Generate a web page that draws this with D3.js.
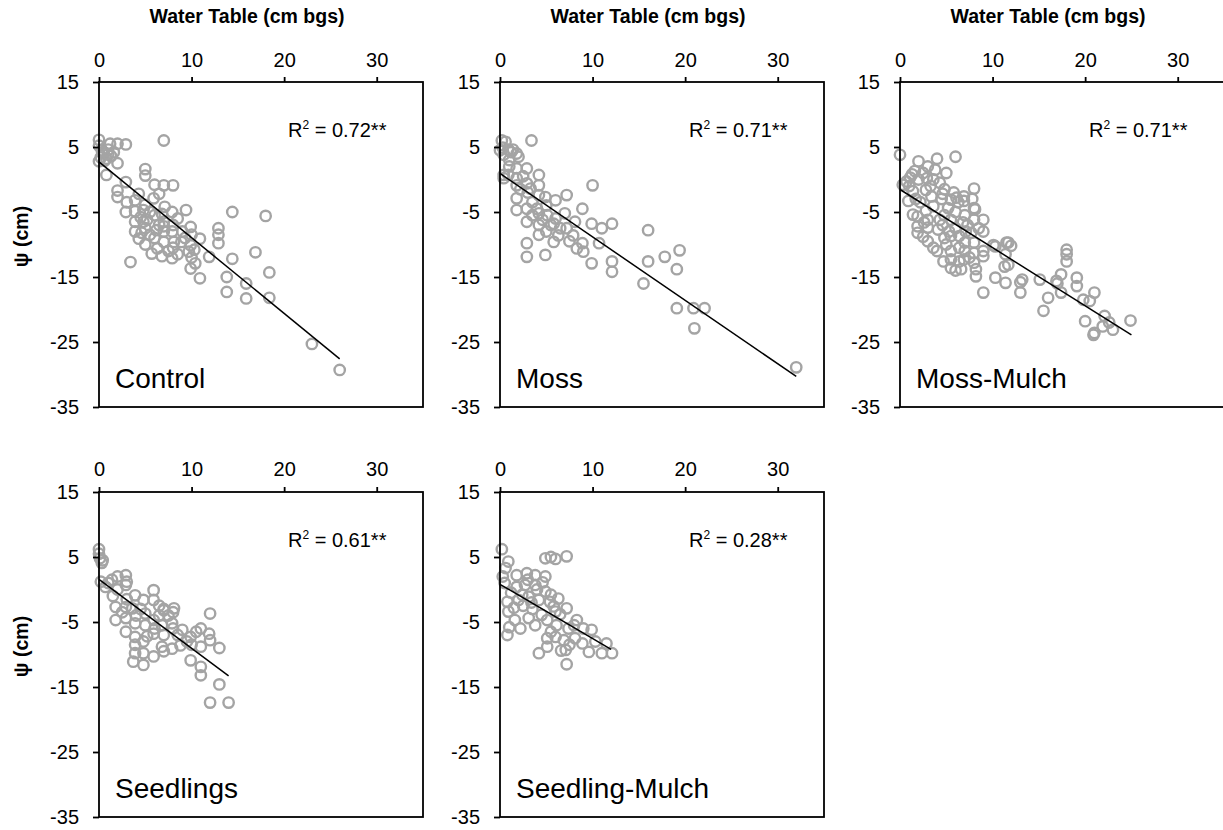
<!DOCTYPE html>
<html>
<head>
<meta charset="utf-8">
<script src="https://cdn.jsdelivr.net/npm/d3@7"></script>
<style>
  html, body { margin: 0; padding: 0; background: #fff; }
  svg { display: block; font-family: "Liberation Sans", Arial, sans-serif; }
</style>
</head>
<body>
<svg id="chart" width="1223" height="830"></svg>
<script>
// ---------------- DATA ----------------
const panelNames = ["Control", "Moss", "Moss-Mulch", "Seedlings", "Seedling-Mulch"];
const r2Labels = ["0.72**", "0.71**", "0.71**", "0.61**", "0.28**"];
const xTicks = [0, 10, 20, 30];
const yTicks = [15, 5, -5, -15, -25, -35];
const xTitle = "Water Table (cm bgs)";
const yTitle = "ψ (cm)";

const trendIntercept = [2.7, 0.93, -1.54, 1.55, 0.8];
const trendSlope = [-1.165, -0.976, -0.894, -1.06, -0.834];
const trendXEnd = [26, 32, 25, 14, 12];

const controlPts = [
  [0,6.1],[0,5.2],[0.3,4.5],[0.5,4.0],[1.0,4.6],[1.2,5.5],[1.6,4.2],[2.0,5.5],[2.9,5.4],[0.2,3.4],
  [0,2.8],[0.8,3.2],[1.3,3.6],[2.0,2.5],[0.8,0.7],[7.0,6.0],[5.0,1.6],[5.0,0.6],[2.9,-0.4],[6.0,-0.8],
  [7.0,-0.9],[8.0,-0.9],[2.0,-1.7],[2.0,-2.7],[4.3,-2.2],[3.9,-3.2],[5.9,-2.9],[6.5,-2.2],[2.9,-5.0],[3.9,-4.9],
  [4.8,-4.7],[5.0,-3.9],[7.1,-4.2],[7.9,-5.0],[9.4,-4.7],[14.4,-5.0],[18.0,-5.6],[3.9,-6.5],[3.9,-8.0],[4.8,-6.5],
  [5.0,-7.5],[5.5,-8.5],[4.3,-9.1],[7.0,-6.5],[7.0,-8.0],[7.9,-8.0],[8.1,-9.6],[7.0,-9.6],[6.3,-10.6],[5.7,-11.4],
  [9.9,-7.3],[10.0,-8.5],[10.9,-9.1],[8.9,-9.6],[9.9,-10.1],[9.7,-11.1],[7.9,-12.1],[9.9,-13.7],[10.4,-12.9],[10.9,-15.2],
  [12.9,-7.5],[12.9,-8.5],[12.9,-9.8],[11.9,-11.9],[14.4,-12.2],[16.9,-11.2],[18.4,-14.3],[3.4,-12.7],[13.8,-15.0],[15.9,-16.0],
  [15.9,-18.3],[13.8,-17.3],[18.4,-18.2],[23.0,-25.3],[26.0,-29.3],
  [6.0,-5.5],[6.5,-7.0],[8.5,-6.0],[9.0,-8.0],[6.0,-9.0],[5.0,-10.0],[7.5,-11.0],[8.5,-11.5],[10.0,-12.0],[4.5,-5.8],
  [3.0,-3.5],[5.5,-5.0],[6.8,-5.3],[8.0,-7.0],[9.3,-9.0],[4.6,-8.2],[6.2,-7.8],[0.4,4.2],[1.0,3.9],[0.6,2.9],
  [7.0,-7.2],[8.0,-10.5],[6.8,-11.8],[5.2,-6.2],[10.3,-10.8]
];
const mossPts = [
  [0.2,6.0],[0.6,5.8],[3.4,6.0],[0,4.5],[0.9,4.6],[1.2,4.2],[1.8,4.0],[2.0,3.5],[0.4,3.8],[1.0,3.0],
  [1.8,1.7],[2.9,1.7],[4.2,0.7],[0.4,0.7],[0.4,0.2],[1.8,0.2],[1.8,-0.9],[2.9,-0.6],[4.2,-0.9],[4.2,-2.4],
  [10.0,-0.9],[1.8,-2.9],[1.8,-4.7],[2.9,-4.5],[2.9,-6.5],[4.9,-2.7],[6.0,-3.2],[7.2,-2.4],[4.2,-5.2],[5.1,-5.5],
  [4.2,-7.0],[4.2,-8.5],[5.8,-6.8],[5.8,-9.6],[7.0,-5.2],[7.2,-7.5],[8.9,-4.5],[7.9,-8.6],[8.3,-10.6],[8.9,-9.8],
  [9.0,-11.1],[8.1,-6.5],[9.9,-6.8],[11.0,-7.5],[12.1,-6.8],[10.7,-9.8],[2.9,-9.8],[2.9,-11.9],[4.9,-11.6],[9.9,-12.9],
  [12.1,-12.6],[12.1,-14.2],[16.0,-7.8],[16.0,-12.6],[17.8,-11.9],[19.4,-10.9],[19.1,-13.8],[15.5,-16.0],[19.1,-19.8],[20.9,-19.8],
  [22.1,-19.8],[21.0,-22.9],[32.0,-28.9],
  [3.0,-2.0],[3.5,-3.5],[5.0,-4.0],[6.0,-6.0],[6.5,-7.5],[5.0,-8.0],[3.5,-5.5],[7.5,-9.5],[4.0,-4.5],[1.0,2.0],
  [2.5,0.5],[2.2,-1.5],[5.5,-7.0],[0.3,4.9],[1.4,4.6],[0.9,0.7],[3.3,-1.4],[6.3,-8.6],[4.6,-6.2]
];
const mossMulchPts = [
  [0,3.8],[2,2.8],[3,2.0],[4,3.2],[6,3.5],[1.6,1.3],[1.1,0.3],[0.7,-0.3],[3.6,0.0],[4.3,-0.5],
  [2.8,-1.6],[1.4,-1.8],[8.0,-1.4],[0.9,-3.3],[5.5,-3.1],[6.9,-2.6],[6.9,-3.3],[3.6,-4.1],[5.2,-4.4],[1.4,-5.4],
  [1.9,-5.7],[3.0,-6.2],[4.3,-6.2],[5.5,-6.2],[8.0,-4.4],[8.0,-6.2],[9.0,-6.2],[9.0,-8.0],[1.9,-7.2],[3.0,-7.4],
  [4.1,-7.7],[1.9,-8.2],[5.5,-8.7],[6.4,-8.7],[7.7,-8.2],[8.0,-9.7],[7.0,-9.7],[3.0,-9.5],[3.6,-10.5],[5.5,-11.0],
  [6.4,-10.5],[7.0,-11.0],[8.0,-11.3],[10.3,-10.3],[11.7,-9.7],[11.4,-11.5],[5.5,-12.3],[6.4,-12.6],[5.5,-13.6],[6.6,-13.8],
  [8.2,-13.8],[8.0,-12.8],[9.0,-11.0],[9.0,-11.8],[11.7,-13.1],[10.3,-15.1],[11.4,-15.9],[13.2,-15.4],[15.1,-15.4],[8.2,-14.9],
  [9.0,-17.4],[13.0,-17.4],[13.0,-15.8],[15.5,-20.2],[16.0,-18.2],[18.0,-10.8],[18.0,-11.5],[18.0,-12.6],[17.4,-14.6],[16.9,-15.6],
  [19.1,-15.1],[19.1,-16.4],[17.4,-17.4],[19.8,-18.5],[20.5,-18.7],[21.0,-17.4],[20.0,-21.8],[21.0,-23.6],[22.1,-21.0],[21.9,-22.6],
  [23.0,-23.1],[24.9,-21.7],
  [2.5,1.0],[3.3,-1.0],[4.8,-1.5],[5.8,-2.0],[4.5,-3.0],[2.2,-3.5],[2.8,-4.8],[6.0,-5.0],[7.0,-5.5],[4.8,-5.5],
  [7.3,-7.0],[6.0,-7.5],[4.8,-9.0],[2.5,-8.8],[4.0,-11.0],[5.0,-10.0],[7.5,-12.0],[6.0,-14.0],[12.0,-10.2],[8.5,-7.5],
  [2.0,0.0],[1.0,-1.0],[5.0,1.0],[3.8,1.5],[6.3,-3.5],[7.8,-3.0],[10.1,-10.1],[11.5,-9.7],[11.3,-13.4],[8.1,-4.6],
  [0.3,-0.8],[1.3,0.8],[2.9,0.2],[4.6,-2.2],[6.1,-2.8],[3.4,-2.6],[1.7,-3.0],[6.8,-6.6],[4.6,-7.0],[2.6,-6.6],
  [6.9,-12.3],[4.7,-12.6],[5.3,-8.0],[7.1,-8.0],[20.9,-23.9],[22.6,-22.0],[17.0,-16.0]
];
const seedlingsPts = [
  [0,6.2],[0,5.5],[0.1,4.8],[0.4,4.5],[0.3,4.1],[1.4,1.5],[2.0,2.0],[2.9,2.2],[2.9,0.7],[0.7,0.4],
  [3.9,-0.9],[4.8,-1.6],[5.9,-0.1],[5.9,-1.6],[1.8,-2.7],[2.9,-2.7],[3.6,-2.9],[7.0,-3.2],[8.1,-2.9],[1.8,-4.7],
  [2.9,-4.4],[3.9,-5.2],[2.9,-6.5],[5.0,-3.7],[5.9,-4.7],[6.8,-5.5],[7.9,-5.2],[9.0,-6.2],[9.9,-7.3],[11.0,-6.0],
  [11.9,-6.8],[12.0,-3.7],[3.9,-7.3],[3.9,-8.5],[4.8,-8.0],[3.9,-9.8],[4.8,-9.8],[3.7,-11.1],[4.8,-11.6],[5.9,-6.8],
  [5.9,-10.3],[6.8,-8.8],[7.9,-9.1],[8.8,-8.6],[9.9,-10.9],[11.0,-8.8],[11.0,-11.9],[11.0,-13.2],[13.0,-9.0],[13.0,-14.6],
  [12.0,-17.4],[14.0,-17.4],
  [1.0,1.0],[2.0,0.0],[3.0,-1.5],[4.5,-3.0],[6.5,-2.5],[7.5,-4.0],[8.0,-3.5],[6.0,-6.0],[7.0,-7.0],[8.5,-7.0],
  [10.0,-8.5],[5.0,-5.5],[2.5,-3.5],[7.0,-3.0],[7.0,-9.5],[10.5,-6.5],[1.5,-1.0],[0.2,1.2],[3.0,1.2],
  [4.0,-4.0],[5.2,-7.2],[8.0,-6.0],[6.5,-4.0],[9.5,-8.0],[12.0,-7.8]
];
const seedlingMulchPts = [
  [0.2,6.2],[0.9,4.3],[0.6,3.3],[4.9,4.8],[5.5,5.0],[6.0,4.7],[7.2,5.1],[1.8,2.2],[2.9,2.5],[3.8,2.2],
  [4.9,2.0],[2.7,0.7],[4.9,-0.3],[1.8,0.4],[3.8,0.7],[0.8,-1.9],[2.0,-1.6],[3.1,-1.1],[4.2,-1.6],[5.4,-1.9],
  [6.3,-1.4],[0.9,-3.4],[3.1,-4.4],[1.6,-4.7],[4.5,-3.9],[6.0,-3.4],[7.2,-2.9],[0.8,-7.0],[3.8,-5.5],[5.1,-4.7],
  [6.1,-5.5],[7.4,-6.0],[8.3,-4.7],[9.0,-6.0],[9.9,-6.2],[5.1,-7.5],[6.0,-7.3],[6.9,-7.8],[8.1,-7.5],[8.9,-8.3],
  [10.3,-8.0],[11.5,-8.3],[4.2,-9.8],[5.1,-8.8],[7.1,-9.3],[9.6,-9.6],[11.0,-9.8],[12.1,-9.8],[7.2,-11.5],
  [0.5,1.0],[1.2,-0.5],[2.5,-2.5],[3.5,-3.0],[4.0,0.0],[5.5,-0.8],[6.5,-3.8],[2.2,-6.0],[1.5,-2.8],[5.5,-6.5],
  [8.0,-5.5],[3.0,1.5],[7.5,-8.5],[0.3,2.0],[2.4,-0.8],[4.6,1.1],[3.4,-2.0],[5.8,-2.6],[1.0,-5.8],[6.6,-9.4]
];
const panelData = [controlPts, mossPts, mossMulchPts, seedlingsPts, seedlingMulchPts];

// ---------------- LAYOUT ----------------
const colX = [99, 500, 900];
const rowY = [82, 492];
const plotW = 324, plotH = 325;
const panelCol = [0, 1, 2, 0, 1];
const panelRow = [0, 0, 0, 1, 1];

const svg = d3.select("#chart");
const tickFont = 20;

panelNames.forEach((name, i) => {
  const x0 = colX[panelCol[i]], y0 = rowY[panelRow[i]];
  const x = d3.scaleLinear().domain([0, 35]).range([0, plotW]);
  const y = d3.scaleLinear().domain([-35, 15]).range([plotH, 0]);
  const g = svg.append("g").attr("transform", `translate(${x0},${y0})`);

  // points
  g.append("g").selectAll("circle")
    .data(panelData[i]).enter().append("circle")
    .attr("cx", d => x(d[0])).attr("cy", d => y(d[1]))
    .attr("r", 5.2)
    .attr("fill", "none")
    .attr("stroke", "#a4a4a4")
    .attr("stroke-width", 2.4);

  // trend line
  g.append("line")
    .attr("x1", x(0)).attr("y1", y(trendIntercept[i]))
    .attr("x2", x(trendXEnd[i])).attr("y2", y(trendIntercept[i] + trendSlope[i] * trendXEnd[i]))
    .attr("stroke", "#000").attr("stroke-width", 1.5);

  // box
  g.append("rect").attr("x", 0).attr("y", 0).attr("width", plotW).attr("height", plotH)
    .attr("fill", "none").attr("stroke", "#000").attr("stroke-width", 1.8);

  // axes
  const xa = g.append("g").call(d3.axisTop(x).tickValues(xTicks).tickSize(5)
      .tickPadding(panelRow[i] === 0 ? 10 : 11).tickFormat(d => String(d)));
  const ya = g.append("g").call(d3.axisLeft(y).tickValues(yTicks).tickSize(6)
      .tickPadding(14).tickFormat(d => String(d)));
  [xa, ya].forEach(a => {
    a.select(".domain").remove();
    a.selectAll(".tick line").attr("stroke", "#000").attr("stroke-width", 1.8);
    a.selectAll(".tick text").attr("font-size", tickFont).attr("fill", "#000")
      .attr("font-family", "Liberation Sans, Arial, sans-serif");
  });

  // R² label
  const t = g.append("text").attr("x", 189).attr("y", 55)
    .attr("font-size", 20).attr("fill", "#000");
  t.append("tspan").text("R");
  t.append("tspan").text("2").attr("font-size", 12).attr("dy", -8);
  t.append("tspan").text(" = " + r2Labels[i]).attr("dy", 8);

  // panel name
  g.append("text").attr("x", 16).attr("y", plotH - 19)
    .attr("font-size", 28).attr("fill", "#000").text(name);

  // x title (top row only)
  if (panelRow[i] === 0) {
    svg.append("text").attr("x", x0 + 148).attr("y", 23)
      .attr("text-anchor", "middle").attr("font-size", 19.5).attr("font-weight", "bold")
      .text(xTitle);
  }
  // y title (first column only)
  if (panelCol[i] === 0) {
    svg.append("text")
      .attr("transform", `translate(28,${y0 + plotH / 2 - 8}) rotate(-90)`)
      .attr("text-anchor", "middle").attr("font-size", 19.5).attr("font-weight", "bold")
      .text(yTitle);
  }
});
</script>
</body>
</html>
